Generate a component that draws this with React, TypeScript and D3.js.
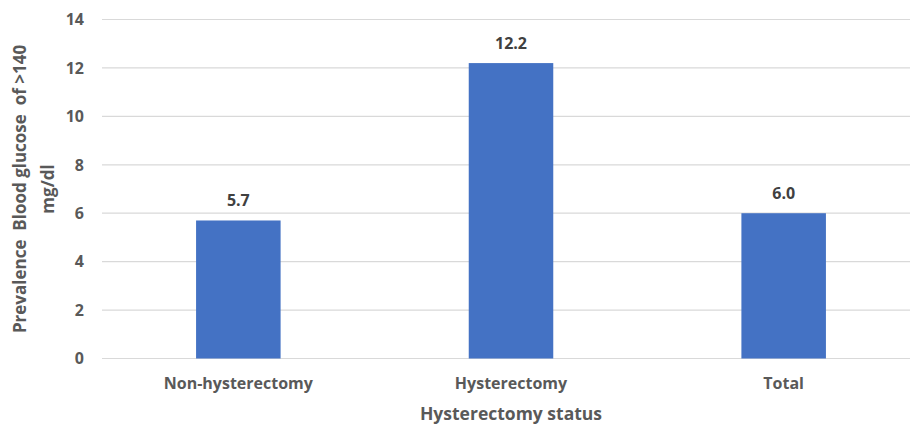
import * as d3 from 'd3'
import { useEffect, useRef } from 'react'

const categories = ['Non-hysterectomy', 'Hysterectomy', 'Total']
const prevalence = [5.7, 12.2, 6.0]
const yTicks = [0, 2, 4, 6, 8, 10, 12, 14]
const yTitle = ['Prevalence  Blood glucose  of >140', 'mg/dl']
const xTitle = 'Hysterectomy status'

const FONT = '"Open Sans", Lato, sans-serif'
const TEXT = '#595959'

export default function App(){
  const svgRef = useRef<SVGSVGElement|null>(null)
  const size = { width: 910, height: 424, left: 102, right: 920, top: 19.5, bottom: 358.5 }

  useEffect(()=>{
    document.body.style.margin = '0'
    const svg = d3.select(svgRef.current)
    svg.selectAll('*').remove()

    const x = d3.scaleBand<string>().domain(categories).range([size.left, size.right]).paddingInner(0.69).paddingOuter(0.345)
    const y = d3.scaleLinear().domain([0, 14]).range([size.bottom, size.top])

    // grid
    svg.append('g').selectAll('line')
      .data(yTicks)
      .join('line')
      .attr('x1', size.left).attr('x2', size.right)
      .attr('y1', (d: number)=>y(d)).attr('y2', (d: number)=>y(d))
      .attr('stroke', '#d9d9d9').attr('stroke-width', 1.2)

    // y tick labels
    svg.append('g').selectAll('text')
      .data(yTicks)
      .join('text')
      .attr('x', 84).attr('y', (d: number)=>y(d)).attr('dy', '0.36em')
      .attr('text-anchor', 'end')
      .attr('font-family', FONT).attr('font-weight', 700).attr('font-size', 16).attr('fill', TEXT)
      .text((d: number)=>d)

    // bars
    svg.append('g').selectAll('rect')
      .data(categories)
      .join('rect')
      .attr('x', (d: string)=>x(d)!)
      .attr('width', x.bandwidth())
      .attr('y', (_d: string, i: number)=>y(prevalence[i]))
      .attr('height', (_d: string, i: number)=>y(0) - y(prevalence[i]))
      .attr('fill', '#4472c4')

    // value labels
    svg.append('g').selectAll('text')
      .data(categories)
      .join('text')
      .attr('x', (d: string)=>x(d)! + x.bandwidth()/2)
      .attr('y', (_d: string, i: number)=>y(prevalence[i]) - 14)
      .attr('text-anchor', 'middle')
      .attr('font-family', FONT).attr('font-weight', 700).attr('font-size', 16).attr('fill', '#404040')
      .text((_d: string, i: number)=>prevalence[i].toFixed(1))

    // category labels
    svg.append('g').selectAll('text')
      .data(categories)
      .join('text')
      .attr('x', (d: string)=>x(d)! + x.bandwidth()/2)
      .attr('y', 389)
      .attr('text-anchor', 'middle')
      .attr('font-family', FONT).attr('font-weight', 700).attr('font-size', 16).attr('fill', TEXT)
      .text((d: string)=>d)

    // axis titles
    svg.append('text')
      .attr('x', x('Hysterectomy')! + x.bandwidth()/2).attr('y', 420)
      .attr('text-anchor', 'middle')
      .attr('font-family', FONT).attr('font-weight', 700).attr('font-size', 17.5).attr('fill', TEXT)
      .text(xTitle)

    const yt = svg.append('text')
      .attr('transform', 'translate(0,189) rotate(-90)')
      .attr('text-anchor', 'middle')
      .style('white-space', 'pre')
      .attr('font-family', FONT).attr('font-weight', 700).attr('font-size', 17).attr('fill', TEXT)
    yTitle.forEach((line, i)=>{
      yt.append('tspan').attr('x', 0).attr('y', 26 + i*28).text(line)
    })
  }, [])

  return (
    <svg ref={svgRef} width={size.width} height={size.height} style={{ display: 'block', background: '#fff' }}></svg>
  )
}
